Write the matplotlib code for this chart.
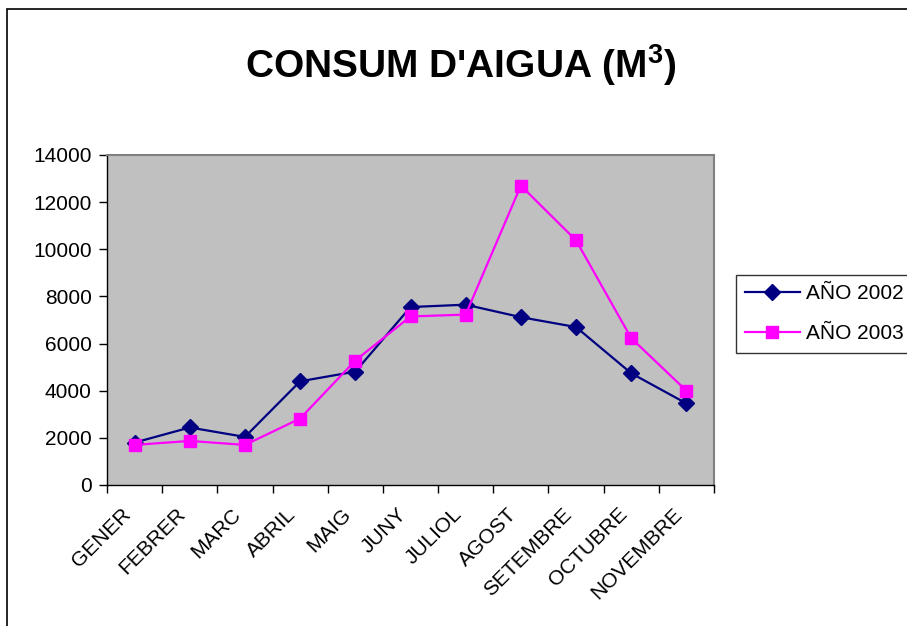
import matplotlib
matplotlib.use("Agg")
import matplotlib.pyplot as plt
from matplotlib.patches import Rectangle
from matplotlib.transforms import ScaledTranslation
import numpy as np

months = ["GENER", "FEBRER", "MARC", "ABRIL", "MAIG", "JUNY", "JULIOL",
          "AGOST", "SETEMBRE", "OCTUBRE", "NOVEMBRE"]
y2002 = [1800, 2440, 2040, 4400, 4810, 7550, 7650, 7120, 6700, 4740, 3460]
y2003 = [1700, 1870, 1700, 2820, 5280, 7150, 7230, 12700, 10380, 6230, 4000]
yticks = [0, 2000, 4000, 6000, 8000, 10000, 12000, 14000]

plt.rcParams['font.family'] = ['Liberation Sans', 'DejaVu Sans']
plt.rcParams['mathtext.fontset'] = 'custom'
plt.rcParams['mathtext.rm'] = 'Liberation Sans:bold'
plt.rcParams['mathtext.bf'] = 'Liberation Sans:bold'

W, H = 907, 626
fig = plt.figure(figsize=(W / 100, H / 100), dpi=100)
fig.patch.set_facecolor('white')

# chart area border
fig.patches.append(Rectangle((7 / W, -0.1), 1.2, 1 - 9 / H + 0.1,
                             transform=fig.transFigure, fill=False,
                             edgecolor='black', linewidth=1.2))

L, R, T, B = 107, 714, 155, 485
ax = fig.add_axes([L / W, 1 - B / H, (R - L) / W, (B - T) / H])
ax.set_facecolor('#C0C0C0')

x = np.arange(len(months))
ax.plot(x, y2002, color='#000080', marker='D', markersize=8, linewidth=1.6,
        label='AÑO 2002')
ax.plot(x, y2003, color='#FF00FF', marker='s', markersize=8, linewidth=1.6,
        label='AÑO 2003')

fs = 15
ax.set_xlim(-0.5, len(months) - 0.5)
ax.set_ylim(0, 14000)
ax.set_yticks(yticks)
ax.set_yticklabels([str(v) for v in yticks], fontsize=fs)
ax.tick_params(axis='y', direction='out', length=6, width=1, pad=5)

ax.set_xticks(x)
ax.set_xticklabels(months, fontsize=fs, rotation=45, ha='right',
                   rotation_mode='anchor')
ax.tick_params(axis='x', which='major', length=0, pad=14)
ax.set_xticks(np.arange(len(months) + 1) - 0.5, minor=True)
ax.tick_params(axis='x', which='minor', direction='out', length=6, width=1)
shift = ScaledTranslation(-14 / 100, 0, fig.dpi_scale_trans)
for lab in ax.get_xticklabels():
    lab.set_transform(lab.get_transform() + shift)

for s in ['top', 'right']:
    ax.spines[s].set_color('#808080')
    ax.spines[s].set_linewidth(1.5)
for s in ['left', 'bottom']:
    ax.spines[s].set_color('#000000')
    ax.spines[s].set_linewidth(1.0)

fig.text(461 / W, 1 - 65 / H, r"CONSUM D'AIGUA (M$^{3}$)", fontsize=28,
         fontweight='bold', ha='center', va='center')

leg = fig.legend(loc='upper left', bbox_to_anchor=(736 / W, 1 - 275 / H),
                 fontsize=fs, frameon=True, fancybox=False, handlelength=2.6,
                 handletextpad=0.3, borderpad=0.45, labelspacing=1.0,
                 borderaxespad=0)
leg.get_frame().set_edgecolor('black')
leg.get_frame().set_linewidth(1.0)

fig.savefig('out.png', dpi=100)
